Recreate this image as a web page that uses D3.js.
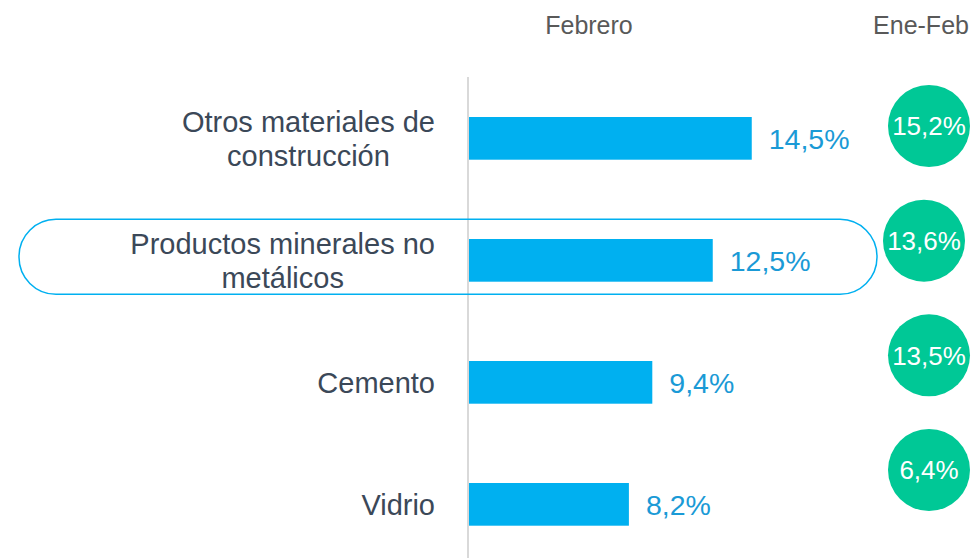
<!DOCTYPE html>
<html>
<head>
<meta charset="utf-8">
<script src="https://cdn.jsdelivr.net/npm/d3@7"></script>
<style>
	body { margin: 0; background: #fff; }
	text { font-family: "Liberation Sans", Arial, sans-serif; }
</style>
</head>
<body>
<div id="chart"></div>
<script>
const categories = [
	['Otros materiales de', 'construcción'],
	['Productos minerales no', 'metálicos'],
	['Cemento'],
	['Vidrio'],
];
const febrero = [14.5, 12.5, 9.4, 8.2];
const ene_feb = [15.2, 13.6, 13.5, 6.4];
const headers = ['Febrero', 'Ene-Feb'];
const highlighted = 1;

const width = 971;
const height = 558;
const fmt = v => d3.format('.1f')(v).replace('.', ',') + '%';

const svg = d3.select('#chart').append('svg')
	.attr('width', width)
	.attr('height', height);

const x = d3.scaleLinear().domain([0, 20]).range([469, 469 + 390]);
const y = d3.scaleBand().domain(d3.range(categories.length)).range([80.4, 562.3]).paddingInner(0.65).paddingOuter(0.3);
// circles sit a bit above the bar rows
const yc = d3.scalePoint().domain(d3.range(categories.length)).range([126, 470]);

// axis line
svg.append('line')
	.attr('x1', 468).attr('x2', 468)
	.attr('y1', 77).attr('y2', height)
	.style('stroke', '#d9d9d9')
	.style('stroke-width', 2);

// headers
svg.selectAll('.header')
	.data(headers)
	.enter()
	.append('text')
	.attr('class', 'header')
	.attr('x', (d, i) => i == 0 ? 589 : 921)
	.attr('y', 34)
	.attr('text-anchor', 'middle')
	.attr('font-size', '25px')
	.attr('fill', '#595959')
	.text(d => d);

// highlight box
const hy = y(highlighted) + y.bandwidth() / 2;
svg.append('rect')
	.attr('x', 19).attr('y', hy - 41)
	.attr('width', 858).attr('height', 75)
	.attr('rx', 37).attr('ry', 37)
	.style('fill', 'none')
	.style('stroke', '#00b0f0')
	.style('stroke-width', 1.5);

// bars
svg.append('g')
	.selectAll('rect')
	.data(febrero)
	.enter()
	.append('rect')
	.attr('x', x(0))
	.attr('y', (d, i) => y(i))
	.attr('width', d => x(d) - x(0))
	.attr('height', y.bandwidth())
	.style('fill', '#00b0f0');

svg.append('g')
	.selectAll('text')
	.data(febrero)
	.enter()
	.append('text')
	.attr('x', d => x(d) + 17)
	.attr('y', (d, i) => y(i) + y.bandwidth() / 2)
	.attr('dy', '0.36em')
	.attr('font-size', '28.5px')
	.attr('fill', '#1a9ad6')
	.text(d => fmt(d));

// category labels, each block centred and right-aligned at 435
const labels = svg.append('g')
	.selectAll('text')
	.data(categories)
	.enter()
	.append('text')
	.attr('font-size', '29px')
	.attr('fill', '#3b4858')
	.attr('text-anchor', 'middle');

labels.each(function(lines, i) {
	const t = d3.select(this);
	const cy = y(i) + y.bandwidth() / 2;
	const tspans = lines.map((line, j) => t.append('tspan')
		.attr('y', cy + (j - (lines.length - 1) / 2) * 33.5)
		.attr('dy', '0.36em')
		.text(line));
	const w = d3.max(tspans, s => s.node().getComputedTextLength());
	tspans.forEach(s => s.attr('x', 435 - w / 2));
});

// Ene-Feb circles
const circles = svg.append('g')
	.selectAll('g')
	.data(ene_feb)
	.enter()
	.append('g')
	.attr('transform', (d, i) => `translate(${i == highlighted ? 924 : 929},${yc(i)})`);

circles.append('circle')
	.attr('r', 41)
	.style('fill', '#00c896');

circles.append('text')
	.attr('text-anchor', 'middle')
	.attr('dy', '0.36em')
	.attr('font-size', '26px')
	.attr('fill', '#ffffff')
	.text(d => fmt(d));
</script>
</body>
</html>
